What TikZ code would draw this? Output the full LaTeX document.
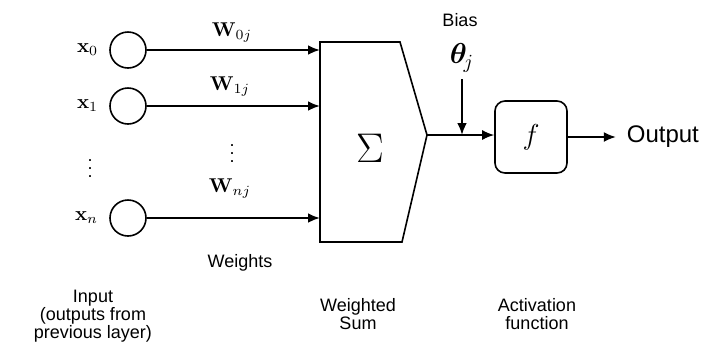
\documentclass[tikz,border=0pt]{standalone}
\usepackage{amsmath}
\usepackage[no-math]{fontspec}
\setmainfont{Liberation Sans}
\usetikzlibrary{arrows.meta,positioning}
\begin{document}
\begin{tikzpicture}[x=0.5pt,y=-0.5pt,
    wire/.style={line width=1.4pt,-{Latex[length=6pt,width=5pt]}},
    thinwire/.style={line width=0.8pt,-{Latex[length=6pt,width=5pt]}},
    dots/.style={font=\small,inner sep=0pt},
    lbl/.style={font=\fontsize{9}{9}\selectfont,align=center}]

    \useasboundingbox (0,0) rectangle (718,344);

    % 1. input neurons
    \foreach \i/\y in {0/50,1/106,n/218} {
        \node[circle,draw,thick,minimum size=18pt,inner sep=0pt] (in\i) at (128,\y) {};
        \node[left=2pt of in\i] (x\i) {$\mathbf{x}_{\i}$};
    }
    \node[dots] (xdots) at (90,163) {$\vdots$};

    % 2. summing block
    \coordinate (sumleft) at (320,42);
    \draw[thick] (sumleft) -- (400,42) -- (427,135) coordinate (sumout)
        -- (402,242) -- (320,242) -- cycle;
    \node (sum) at (370,148) {\huge$\Sigma$};

    % 3. weighted connections
    \foreach \i in {0,1,n} {
        \draw[wire] (in\i.east) -- (in\i.east -| sumleft);
    }
    \node (w0) at (232,32) {$\mathbf{W}_{0j}$};
    \node (w1) at (230,86) {$\mathbf{W}_{1j}$};
    \node[dots] (wdots) at (232,148) {$\vdots$};
    \node (wn) at (230,188) {$\mathbf{W}_{nj}$};

    % 4. bias and activation
    \node[draw,thick,rounded corners=5pt,minimum width=36pt,minimum height=36pt] (act) at (531,137) {\Large$f$};
    \draw[thinwire] (sumout) -- (sumout -| act.west);
    \node[lbl] (bias) at (460,20) {Bias};
    \node (theta) at (462,58) {\Large$\boldsymbol{\theta}_{\!j}$};
    \draw[wire] (theta.south) -- (theta.south |- sumout);

    % 5. output
    \draw[thinwire] (act.east) -- ++(48,0) coordinate (outtip);
    \node[right=2pt of outtip,font=\fontsize{12}{14}\selectfont] (out) {Output};

    % 6. captions
    \node[lbl] (weights) at (240,263) {Weights};
    \node[lbl] (input) at (93,316) {Input\\(outputs from\\previous layer)};
    \node[lbl] (wsum) at (358,314) {Weighted\\Sum};
    \node[lbl] (actf) at (537,314) {Activation\\function};

\end{tikzpicture}
\end{document}
